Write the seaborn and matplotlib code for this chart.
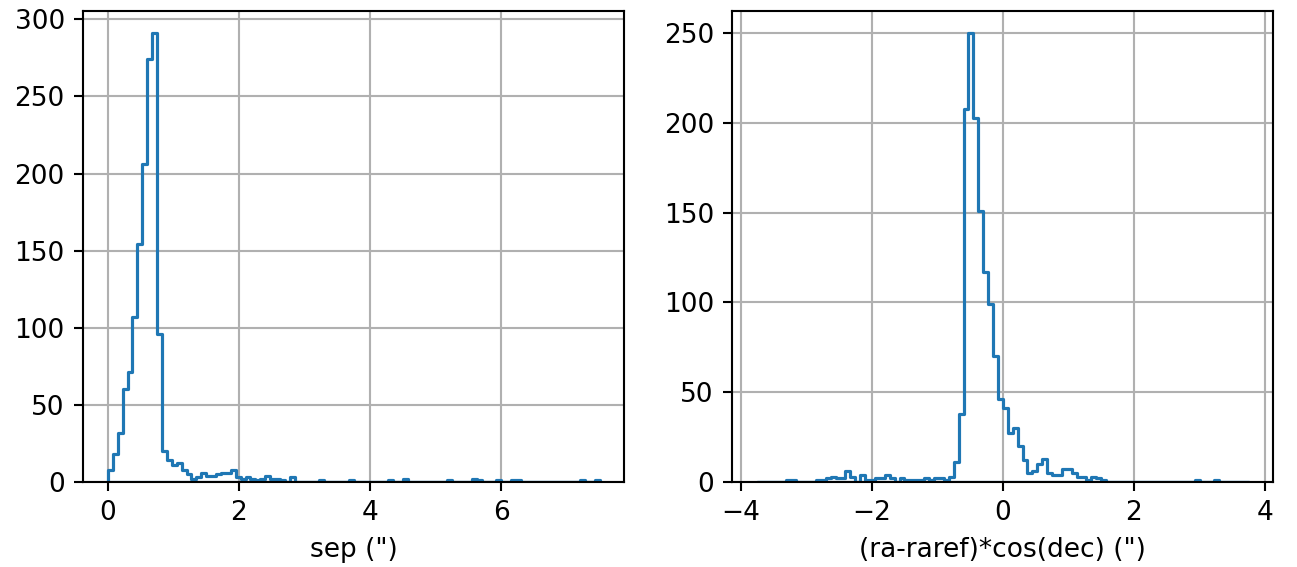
import numpy as np
import matplotlib
matplotlib.use("Agg")
import matplotlib.pyplot as plt
import seaborn as sns

# ---- data: histogram counts (100 bins each) ----
sep_range = (0.0, 7.5)
sep_counts = [
    8, 18, 32, 60, 71, 107, 154, 206, 274, 291,
    96, 20, 14, 11, 12, 8, 5, 2, 3, 6,
    4, 4, 5, 6, 6, 8, 3, 2, 3, 2,
    1, 2, 4, 2, 2, 1, 0, 3, 0, 0,
    0, 0, 0, 1, 0, 0, 0, 0, 0, 1,
    0, 0, 0, 0, 0, 0, 0, 1, 0, 0,
    2, 0, 0, 0, 0, 0, 0, 0, 0, 1,
    0, 0, 0, 0, 2, 1, 0, 0, 0, 1,
    0, 0, 1, 1, 0, 0, 0, 0, 0, 0,
    0, 0, 0, 0, 0, 0, 1, 0, 0, 1,
]

dra_range = (-3.75, 3.75)
dra_counts = [
    0, 0, 0, 0, 0, 0, 1, 1, 0, 0,
    0, 0, 1, 1, 2, 3, 2, 2, 6, 3,
    0, 4, 1, 1, 2, 2, 4, 2, 0, 2,
    1, 1, 1, 1, 2, 1, 2, 2, 1, 3,
    11, 38, 208, 250, 203, 151, 117, 99, 70, 46,
    41, 27, 30, 20, 12, 5, 6, 10, 13, 5,
    4, 4, 7, 7, 5, 3, 3, 1, 3, 2,
    1, 0, 0, 0, 0, 0, 0, 0, 0, 0,
    0, 0, 0, 0, 0, 0, 0, 0, 0, 1,
    0, 0, 0, 1, 0, 0, 0, 0, 0, 0,
]

xlabels = ['sep (")', '(ra-raref)*cos(dec) (")']
line_color = "#1f77b4"

# ---- figure ----
dpi = 190
fig, axes = plt.subplots(1, 2, figsize=(1297 / dpi, 567 / dpi), dpi=dpi)
fig.subplots_adjust(left=0.0642, right=0.9817, bottom=0.150, top=0.9811, wspace=0.2002)

for ax, rng, counts, lab in zip(axes, [sep_range, dra_range],
                                [sep_counts, dra_counts], xlabels):
    counts = np.asarray(counts, dtype=float)
    n = len(counts)
    edges = np.linspace(rng[0], rng[1], n + 1)
    centers = 0.5 * (edges[:-1] + edges[1:])
    sns.histplot(x=centers, weights=counts, bins=n, binrange=rng,
                 element="step", fill=True, color=line_color,
                 facecolor="none", edgecolor=line_color, linewidth=1.2,
                 ax=ax)
    ax.set_axisbelow(True)
    ax.grid(True, color="#b0b0b0", linewidth=0.8)
    ax.set_ylabel("")
    ax.set_xlabel(lab)

fig.savefig("out.png", dpi=dpi)
